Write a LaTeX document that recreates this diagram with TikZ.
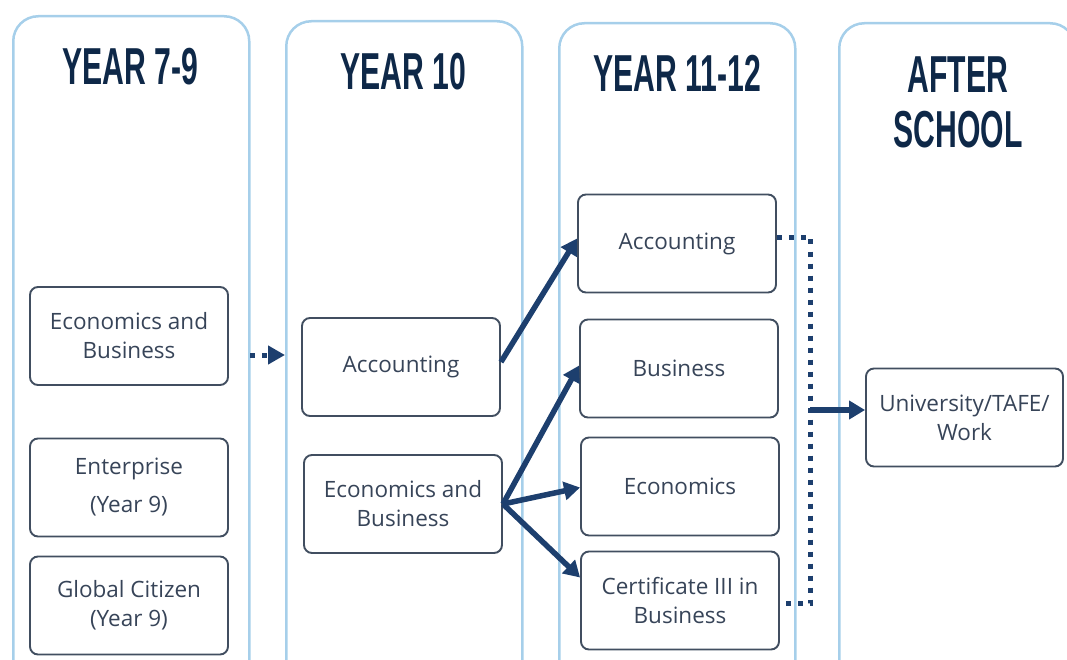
\documentclass[tikz,border=0pt]{standalone}
\usepackage{fontspec}
\setmainfont{Open Sans}
\newfontfamily\headfont[FakeStretch=0.58]{Liberation Sans}
\usepackage{tikz}
\usetikzlibrary{arrows.meta,calc,positioning}
\usepackage{xcolor}
\definecolor{ColLine}{RGB}{166,207,234}
\definecolor{BoxLine}{RGB}{65,78,96}
\definecolor{BodyText}{RGB}{55,68,88}
\definecolor{HeadNavy}{RGB}{14,40,72}
\definecolor{ArrowNavy}{RGB}{29,63,110}

\begin{document}
\begin{tikzpicture}[x=1pt, y=-1pt,
  colbox/.style={draw=ColLine, line width=2.5pt, rounded corners=25pt, anchor=north west,
    minimum width=236pt, minimum height=720pt, inner sep=0pt},
  head/.style={font=\headfont\bfseries\fontsize{52}{56}\selectfont, text=HeadNavy, align=center},
  course/.style={draw=BoxLine, line width=1.9pt, rounded corners=8pt, minimum width=198pt,
    minimum height=98pt, align=center, text=BodyText, font=\fontsize{22.5}{29}\selectfont},
  arr/.style={ArrowNavy, line width=5.5pt, -{Triangle[length=16pt,width=18pt]}},
  dotline/.style={ArrowNavy, line width=5pt, dash pattern=on 5pt off 7pt}]
\clip (0,0) rectangle (1067,660);
% columns
\node[colbox] (col1) at (12,15) {};
\node[colbox] (col2) at (285,20) {};
\node[colbox] (col3) at (558,22) {};
\node[colbox] (col4) at (838,22) {};
\node[head] (h1) at (130,67) {YEAR 7-9};
\node[head] (h2) at (403,72) {YEAR 10};
\node[head] (h3) at (677,73) {YEAR 11-12};
\node[head, font=\headfont\bfseries\fontsize{52}{55}\selectfont] (h4) at (958,102) {AFTER\\SCHOOL};
% courses
\node[course] (a1) at (129,336) {Economics and\\Business};
\node[course] (a2) at (129,487.5) {Enterprise\\[9pt](Year 9)};
\node[course] (a3) at (129,605.5) {Global Citizen\\(Year 9)};
\node[course] (b1) at (401,367) {Accounting};
\node[course] (b2) at (403,504) {Economics and\\Business};
\node[course] (c1) at (677,243.5) {Accounting};
\node[course] (c2) at (679,368.5) {Business};
\node[course] (c3) at (680,486.5) {Economics};
\node[course] (c4) at (680,600.5) {Certificate III in\\Business};
\node[course, minimum width=197pt] (d1) at (964.5,417.5) {University/TAFE/\\Work};
% connectors
\coordinate (dots) at (250,355);
\draw[dotline, -{Triangle[length=17pt,width=18pt]}] (dots) -- (dots -| col2.west);
\draw[arr] ([yshift=5pt]b1.east) -- ([yshift=5pt]c1.west);
\draw[arr] (b2.east) -- ([yshift=3pt]c2.west);
\draw[arr] (b2.east) -- ([yshift=-1pt]c3.west);
\draw[arr] (b2.east) -- ([yshift=23pt]c4.west);
\draw[dotline] ([yshift=6pt]c1.east) -| ([xshift=31pt,yshift=-3pt]c4.east) -- ([yshift=-3pt]c4.east);
\coordinate (join) at (810,410);
\draw[arr] (join) -- (join -| d1.west);
\end{tikzpicture}
\end{document}
